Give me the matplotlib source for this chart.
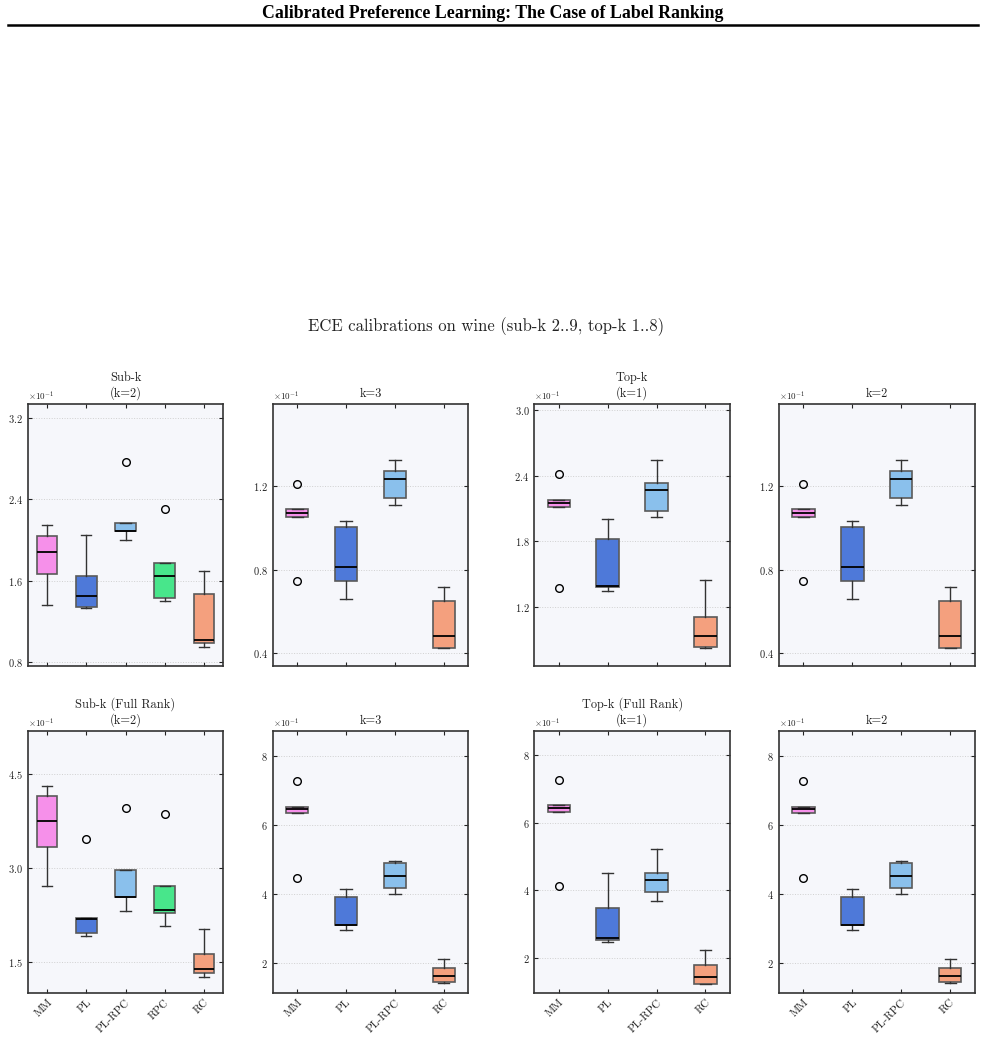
import numpy as np
import matplotlib
matplotlib.use('Agg')
import matplotlib.pyplot as plt
from matplotlib.lines import Line2D

plt.rcParams['font.family'] = ['cmr10', 'DejaVu Serif']
plt.rcParams['mathtext.fontset'] = 'cm'
plt.rcParams['axes.formatter.use_mathtext'] = True

# methods and colours
methods5 = ['MM', 'PL', 'PL-RPC', 'RPC', 'RC']
methods4 = ['MM', 'PL', 'PL-RPC', 'RC']
colors = {'MM': '#f690ea', 'PL': '#4e79d9', 'PL-RPC': '#8ac0ec',
          'RPC': '#48e68b', 'RC': '#f4a07e'}

# Sub-k (k=2)
subk_lo = [0.1363, 0.1336, 0.1999, 0.1405, 0.0954]
subk_q1 = [0.1672, 0.1339, 0.2087, 0.1431, 0.0987]
subk_med = [0.1878, 0.1450, 0.2090, 0.1647, 0.1020]
subk_q3 = [0.2041, 0.1650, 0.2172, 0.1774, 0.1470]
subk_hi = [0.2152, 0.2054, 0.2172, 0.1774, 0.1692]
subk_fl = [[], [], [0.2769], [0.2309], []]

# k=3 (sub-k) and k=2 (top-k) look the same
k3_lo = [0.1053, 0.0661, 0.1108, 0.0425]
k3_q1 = [0.1053, 0.0744, 0.1144, 0.0428]
k3_med = [0.1072, 0.0812, 0.1234, 0.0482]
k3_q3 = [0.1089, 0.1004, 0.1273, 0.0651]
k3_hi = [0.1089, 0.1034, 0.1326, 0.0718]
k3_fl = [[0.1210, 0.0744], [], [], []]

# Top-k (k=1)
topk_lo = [0.2110, 0.1348, 0.2022, 0.0828]
topk_q1 = [0.2110, 0.1386, 0.2080, 0.0834]
topk_med = [0.2147, 0.1388, 0.2266, 0.0931]
topk_q3 = [0.2177, 0.1824, 0.2330, 0.1111]
topk_hi = [0.2177, 0.2007, 0.2546, 0.1443]
topk_fl = [[0.2418, 0.1376], [], [], []]

# Sub-k (Full Rank) (k=2)
subfr_lo = [0.2716, 0.1917, 0.2321, 0.2082, 0.1267]
subfr_q1 = [0.3339, 0.1960, 0.2540, 0.2279, 0.1321]
subfr_med = [0.3754, 0.2183, 0.2545, 0.2332, 0.1390]
subfr_q3 = [0.4148, 0.2209, 0.2971, 0.2716, 0.1625]
subfr_hi = [0.4318, 0.2209, 0.2971, 0.2716, 0.2034]
subfr_fl = [[], [0.3462], [0.3957], [0.3866], []]

# k=3 / k=2 full rank
k3fr_lo = [0.6330, 0.2948, 0.3991, 0.1410]
k3fr_q1 = [0.6330, 0.3080, 0.4165, 0.1440]
k3fr_med = [0.6445, 0.3084, 0.4522, 0.1623]
k3fr_q3 = [0.6522, 0.3894, 0.4899, 0.1855]
k3fr_hi = [0.6522, 0.4145, 0.4948, 0.2116]
k3fr_fl = [[0.7267, 0.4464], [], [], []]

# Top-k (Full Rank) (k=1)
topfr_lo = [0.6310, 0.2480, 0.3680, 0.1220]
topfr_q1 = [0.6310, 0.2520, 0.3950, 0.1220]
topfr_med = [0.6430, 0.2595, 0.4300, 0.1430]
topfr_q3 = [0.6520, 0.3483, 0.4500, 0.1780]
topfr_hi = [0.6520, 0.4520, 0.5210, 0.2230]
topfr_fl = [[0.7260, 0.4124], [], [], []]

panels = [
    ('Sub-k\n(k=2)', methods5, subk_lo, subk_q1, subk_med, subk_q3, subk_hi, subk_fl,
     (0.0768, 0.3334), [0.08, 0.16, 0.24, 0.32]),
    ('k=3', methods4, k3_lo, k3_q1, k3_med, k3_q3, k3_hi, k3_fl,
     (0.0341, 0.1592), [0.04, 0.08, 0.12]),
    ('Top-k\n(k=1)', methods4, topk_lo, topk_q1, topk_med, topk_q3, topk_hi, topk_fl,
     (0.0663, 0.3055), [0.12, 0.18, 0.24, 0.30]),
    ('k=2', methods4, k3_lo, k3_q1, k3_med, k3_q3, k3_hi, k3_fl,
     (0.0341, 0.1592), [0.04, 0.08, 0.12]),
    ('Sub-k (Full Rank)\n(k=2)', methods5, subfr_lo, subfr_q1, subfr_med, subfr_q3, subfr_hi, subfr_fl,
     (0.101, 0.5192), [0.15, 0.30, 0.45]),
    ('k=3', methods4, k3fr_lo, k3fr_q1, k3fr_med, k3fr_q3, k3fr_hi, k3fr_fl,
     (0.113, 0.8716), [0.2, 0.4, 0.6, 0.8]),
    ('Top-k (Full Rank)\n(k=1)', methods4, topfr_lo, topfr_q1, topfr_med, topfr_q3, topfr_hi, topfr_fl,
     (0.0965, 0.871), [0.2, 0.4, 0.6, 0.8]),
    ('k=2', methods4, k3fr_lo, k3fr_q1, k3fr_med, k3fr_q3, k3fr_hi, k3fr_fl,
     (0.113, 0.8716), [0.2, 0.4, 0.6, 0.8]),
]

W, H = 985, 1051
fig = plt.figure(figsize=(W / 100, H / 100), dpi=100)

# page header
fig.text(0.5, 1 - 13 / H, 'Calibrated Preference Learning: The Case of Label Ranking',
         ha='center', va='center', fontsize=12.8, fontweight='bold', family='Liberation Serif')
fig.add_artist(Line2D([8 / W, 978 / W], [1 - 25 / H, 1 - 25 / H], color='black', lw=1.8))

fig.suptitle('ECE calibrations on wine (sub-k 2..9, top-k 1..8)', x=486 / W, y=1 - 327 / H,
             va='center', fontsize=12.0, color='#222222')

lefts = [27.7, 272.7, 534.3, 779.0]
tops = [404.0, 731.0]
aw, ah = 195.6, 261.7

for i, (title, meths, lo, q1, med, q3, hi, fl, ylim, yticks) in enumerate(panels):
    r, c = divmod(i, 4)
    ax = fig.add_axes([lefts[c] / W, 1 - (tops[r] + ah) / H, aw / W, ah / H])
    ax.set_facecolor('#f6f7fb')
    stats = []
    for j, m in enumerate(meths):
        stats.append(dict(label=m, whislo=lo[j], q1=q1[j], med=med[j], q3=q3[j],
                          whishi=hi[j], fliers=fl[j]))
    wd = 0.52 if len(meths) == 5 else 0.46
    bp = ax.bxp(stats, widths=wd, patch_artist=True,
                boxprops=dict(edgecolor='#5a5a5a', linewidth=1.2),
                medianprops=dict(color='black', linewidth=1.3),
                whiskerprops=dict(color='#333333', linewidth=1.0),
                capprops=dict(color='#333333', linewidth=1.0),
                flierprops=dict(marker='o', markerfacecolor='none', markeredgecolor='black',
                                markersize=5.5, markeredgewidth=1.0))
    for patch, m in zip(bp['boxes'], meths):
        patch.set_facecolor(colors[m])
    ax.set_xlim(0.5, len(meths) + 0.5)
    ax.set_ylim(*ylim)
    ax.set_yticks(yticks)
    ax.ticklabel_format(axis='y', style='sci', scilimits=(0, 0), useMathText=True)
    ax.yaxis.get_offset_text().set_fontsize(6.5)
    ax.grid(axis='y', linestyle=':', color='#d0d0d0', linewidth=0.7)
    ax.set_axisbelow(True)
    ax.tick_params(direction='in', top=True, right=True, length=3, width=0.8,
                   labelsize=7.5, colors='#222222')
    for sp in ax.spines.values():
        sp.set_color('#333333')
        sp.set_linewidth(1.2)
    if r == 0:
        ax.set_xticklabels([])
    else:
        ax.set_xticklabels(meths, rotation=45, ha='right', rotation_mode='anchor', fontsize=8)
    ax.set_title(title, fontsize=8.9, pad=5, color='#222222', linespacing=1.25)

plt.savefig('out.png', dpi=100)
